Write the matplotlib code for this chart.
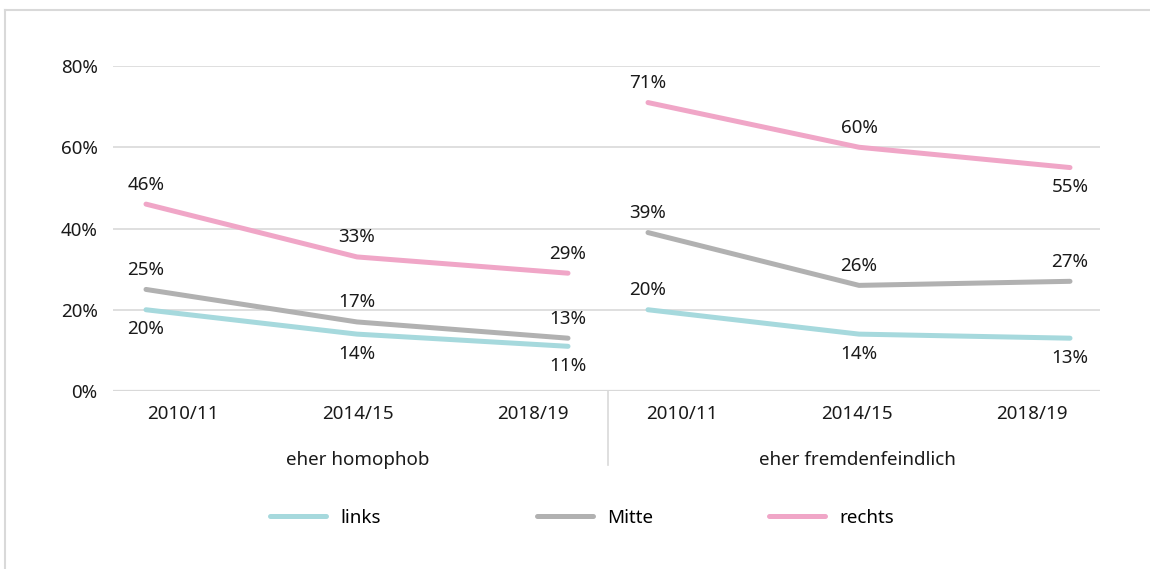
import matplotlib.pyplot as plt
from matplotlib.lines import Line2D

plt.rcParams['font.family'] = ['Noto Sans', 'DejaVu Sans']

# Daten
jahre = ['2010/11', '2014/15', '2018/19']
gruppen = ['eher homophob', 'eher fremdenfeindlich']
serien = ['links', 'Mitte', 'rechts']
links = [[20, 14, 11], [20, 14, 13]]
mitte = [[25, 17, 13], [39, 26, 27]]
rechts = [[46, 33, 29], [71, 60, 55]]

farben = {'links': '#a6d9dd', 'Mitte': '#b1b1b1', 'rechts': '#f0a6c7'}
# Beschriftung über (+1) oder unter (-1) dem Punkt
lage = {
    'links': [[-1, -1, -1], [1, -1, -1]],
    'Mitte': [[1, 1, 1], [1, 1, 1]],
    'rechts': [[1, 1, 1], [1, 1, -1]],
}

W, H = 1150, 569
fs = 13.5
fig = plt.figure(figsize=(W / 100, H / 100), dpi=100)
ax = fig.add_axes([113 / W, 1 - 391 / H, (1100 - 113) / W, (391 - 66) / H])

# x-Positionen (Pixelraster der Vorlage)
punkt_start = [146, 648]
punkt_schritt = 211
tick_start = [183, 682]
tick_schritt = 175

daten = {'links': links, 'Mitte': mitte, 'rechts': rechts}
griffe = {}
for name in serien:
    for g in range(2):
        xs = [punkt_start[g] + i * punkt_schritt for i in range(3)]
        ys = daten[name][g]
        ln, = ax.plot(xs, ys, color=farben[name], lw=3.6, solid_capstyle='round', zorder=3)
        griffe[name] = ln
        for x, y, d in zip(xs, ys, lage[name][g]):
            ax.annotate(f'{y}%', (x, y), xytext=(0, 14 * d), textcoords='offset points',
                        ha='center', va='center', fontsize=fs, color='#1a1a1a')

ax.set_xlim(113, 1100)
ax.set_ylim(0, 80)
ax.set_yticks([0, 20, 40, 60, 80])
ax.set_yticklabels([f'{v}%' for v in [0, 20, 40, 60, 80]], fontsize=fs, color='#1a1a1a')
ax.tick_params(axis='y', length=0, pad=11)
ax.set_xticks([])
ax.grid(axis='y', color='#d9d9d9', lw=1.2)
ax.set_axisbelow(True)
for s in ax.spines.values():
    s.set_visible(False)
ax.axhline(0, color='#d9d9d9', lw=1.6, zorder=1)

# Kategorienbeschriftung
for g in range(2):
    for i, j in enumerate(jahre):
        ax.annotate(j, (tick_start[g] + i * tick_schritt, 0), xytext=(0, -16.5),
                    textcoords='offset points', ha='center', va='center',
                    fontsize=fs, color='#1a1a1a', annotation_clip=False)
    ax.annotate(gruppen[g], (tick_start[g] + tick_schritt, 0), xytext=(0, -50),
                textcoords='offset points', ha='center', va='center',
                fontsize=fs, color='#1a1a1a', annotation_clip=False)
ax.plot([608, 608], [0, -18.3], color='#d9d9d9', lw=1.2, clip_on=False)

# Legende: jeder Eintrag einzeln platziert
legende_x = [270, 537, 769]
for name, lx in zip(serien, legende_x):
    fig.legend([griffe[name]], [name], loc='center left',
               bbox_to_anchor=(lx / W, 1 - 518 / H), frameon=False, fontsize=fs,
               handlelength=3.0, handletextpad=0.75, borderpad=0, borderaxespad=0)

# Rahmen
fig.add_artist(Line2D([5 / W, 5 / W], [0, 1 - 10 / H], color='#d9d9d9', lw=1.5))
fig.add_artist(Line2D([5 / W, 1], [1 - 10 / H, 1 - 10 / H], color='#d9d9d9', lw=1.5))

fig.savefig('out.png', dpi=100)
